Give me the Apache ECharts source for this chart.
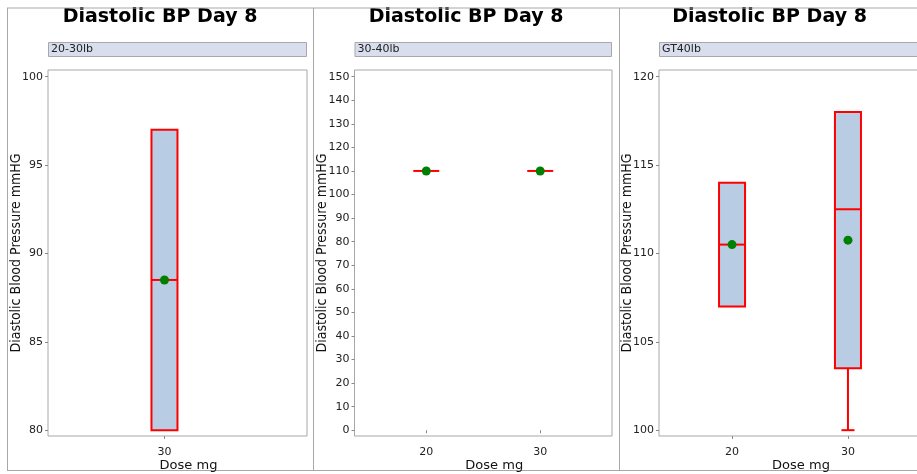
<!DOCTYPE html>
<html>
<head>
<meta charset="utf-8">
<script src="https://cdn.jsdelivr.net/npm/echarts@6/dist/echarts.min.js"></script>
<style>
html, body { margin: 0; padding: 0; background: #fff; }
#container { width: 917px; height: 474px; }
</style>
</head>
<body>
<div id="container"></div>
<script>
// panel data (one entry per weight group)
var panelLabels = ['20-30lb', '30-40lb', 'GT40lb'];
var doses = [[30], [20, 30], [20, 30]];
// box stats per dose: [min, q1, median, q3, max]
var boxStats = [
	[[80, 80, 88.5, 97, 97]],
	[[110, 110, 110, 110, 110], [110, 110, 110, 110, 110]],
	[[107, 107, 110.5, 114, 114], [100, 103.5, 112.5, 118, 118]]
];
var means = [[88.5], [110, 110], [110.5, 110.75]];
var yTicks = [
	[80, 85, 90, 95, 100],
	[0, 10, 20, 30, 40, 50, 60, 70, 80, 90, 100, 110, 120, 130, 140, 150],
	[100, 105, 110, 115, 120]
];
var yRange = [[79.67, 100.38], [-2.45, 152.83], [99.67, 120.38]];
var xRange = [[19.85, 42.42], [13.7, 36.3], [13.7, 36.3]];

var titleText = 'Diastolic BP Day 8';
var yName = 'Diastolic Blood Pressure mmHG';
var xName = 'Dose mg';

// layout
var grids = [
	{ left: 48, top: 70, width: 259, height: 366 },
	{ left: 354.5, top: 70, width: 257.5, height: 366 },
	{ left: 659, top: 70, width: 262, height: 366 }
];
var panelCenters = [160, 466, 769.5];

var dom = document.getElementById('container');
var myChart = echarts.init(dom);

var boxFill = '#b8cce4';
var red = '#ff0000';

function renderBox(params, api) {
	var x = api.value(0);
	var pMin = api.coord([x, api.value(1)]);
	var pQ1 = api.coord([x, api.value(2)]);
	var pMed = api.coord([x, api.value(3)]);
	var pQ3 = api.coord([x, api.value(4)]);
	var pMax = api.coord([x, api.value(5)]);
	var cx = pMed[0];
	var hw = 13, cap = 6.5;
	var lineStyle = { stroke: red, lineWidth: 2 };
	var children = [];
	if (pQ1[1] - pQ3[1] > 1) {
		children.push({
			type: 'rect',
			shape: { x: cx - hw, y: pQ3[1], width: hw * 2, height: pQ1[1] - pQ3[1] },
			style: { fill: boxFill, stroke: red, lineWidth: 2 }
		});
	}
	children.push({
		type: 'line',
		shape: { x1: cx - hw, y1: pMed[1], x2: cx + hw, y2: pMed[1] },
		style: lineStyle
	});
	if (pMin[1] - pQ1[1] > 1) {
		children.push({ type: 'line', shape: { x1: cx, y1: pQ1[1], x2: cx, y2: pMin[1] }, style: lineStyle });
		children.push({ type: 'line', shape: { x1: cx - cap, y1: pMin[1], x2: cx + cap, y2: pMin[1] }, style: lineStyle });
	}
	if (pQ3[1] - pMax[1] > 1) {
		children.push({ type: 'line', shape: { x1: cx, y1: pQ3[1], x2: cx, y2: pMax[1] }, style: lineStyle });
		children.push({ type: 'line', shape: { x1: cx - cap, y1: pMax[1], x2: cx + cap, y2: pMax[1] }, style: lineStyle });
	}
	return { type: 'group', children: children };
}

var xAxes = [], yAxes = [], series = [], graphics = [];
var frame = '#a8a8a8';

for (var i = 0; i < 3; i++) {
	xAxes.push({
		type: 'value', gridIndex: i, min: xRange[i][0], max: xRange[i][1],
		name: xName, nameLocation: 'middle', nameGap: 23, nameMoveOverlap: false,
		nameTextStyle: { fontFamily: 'DejaVu Sans', fontSize: 13, color: '#111', padding: [0, 0, 0, 22] },
		axisLine: { show: false },
		axisTick: { show: true, length: 3, customValues: doses[i], lineStyle: { color: '#888' } },
		axisLabel: { customValues: doses[i], margin: 11, fontFamily: 'DejaVu Sans', fontSize: 11, color: '#222' },
		splitLine: { show: false }
	});
	yAxes.push({
		type: 'value', gridIndex: i, min: yRange[i][0], max: yRange[i][1],
		name: yName, nameLocation: 'middle', nameGap: 25, nameMoveOverlap: false,
		nameTextStyle: { fontFamily: 'Liberation Sans Narrow, DejaVu Sans Condensed', fontSize: 14, color: '#111' },
		axisLine: { show: false },
		axisTick: { show: true, length: 3, customValues: yTicks[i], lineStyle: { color: '#888' } },
		axisLabel: { customValues: yTicks[i], margin: 5, fontFamily: 'DejaVu Sans', fontSize: 11, color: '#222' },
		splitLine: { show: false }
	});
	var boxData = doses[i].map(function (d, j) {
		return [d].concat(boxStats[i][j]);
	});
	series.push({
		type: 'custom', xAxisIndex: i, yAxisIndex: i,
		renderItem: renderBox,
		encode: { x: 0, y: [1, 2, 3, 4, 5] },
		data: boxData, z: 2, silent: true
	});
	series.push({
		type: 'scatter', xAxisIndex: i, yAxisIndex: i,
		symbolSize: 9, itemStyle: { color: '#008000', opacity: 1 },
		data: doses[i].map(function (d, j) { return [d, means[i][j]]; }),
		z: 3, silent: true
	});

	// panel title and strip
	graphics.push({
		type: 'text', x: panelCenters[i], y: 17,
		style: { text: titleText, align: 'center', verticalAlign: 'middle',
			font: 'bold 19px "DejaVu Sans"', fill: '#000' }
	});
	var g = grids[i];
	graphics.push({
		type: 'rect', shape: { x: g.left + 0.5, y: 42.5, width: g.width - 1, height: 14 },
		style: { fill: '#d8deed', stroke: frame, lineWidth: 1 }
	});
	graphics.push({
		type: 'text', x: g.left + 3, y: 49.5,
		style: { text: panelLabels[i], font: '11px "DejaVu Sans"', fill: '#222', verticalAlign: 'middle' }
	});
}

// outer frame and panel dividers
var frameLines = [[7, 8, 917, 8], [7, 470.5, 917, 470.5], [7.5, 8, 7.5, 470.5], [313.5, 8, 313.5, 470.5], [619.5, 8, 619.5, 470.5]];
frameLines.forEach(function (l) {
	graphics.push({ type: 'line', shape: { x1: l[0], y1: l[1], x2: l[2], y2: l[3] }, style: { stroke: frame, lineWidth: 1 } });
});

var option = {
	backgroundColor: '#fff',
	animation: false,
	grid: grids.map(function (g) {
		return { left: g.left, top: g.top, width: g.width, height: g.height, outerBoundsMode: 'none',
			show: true, borderColor: frame, borderWidth: 1, backgroundColor: '#fff' };
	}),
	xAxis: xAxes,
	yAxis: yAxes,
	series: series,
	graphic: graphics
};

myChart.setOption(option);
</script>
</body>
</html>
